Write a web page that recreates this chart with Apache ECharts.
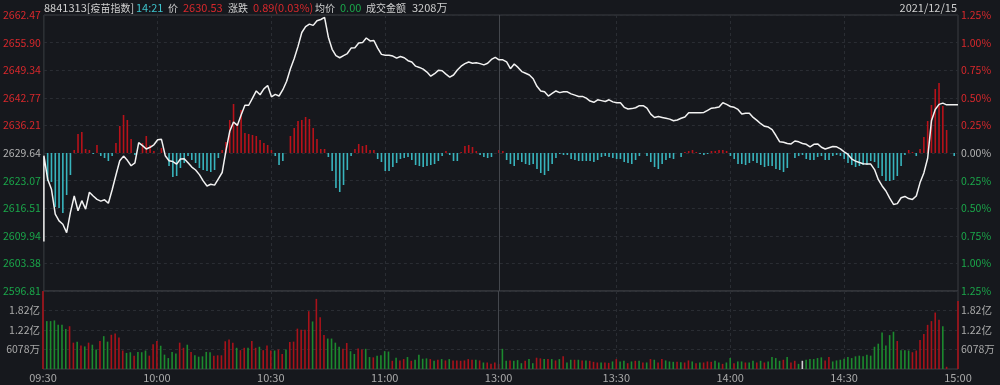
<!DOCTYPE html>
<html><head><meta charset="utf-8">
<script src="https://cdn.jsdelivr.net/npm/echarts@6/dist/echarts.min.js"></script>
<style>html,body{margin:0;padding:0;background:#16181d;}#c{width:1000px;height:385px;}</style>
</head><body><div id="c"></div>
<script>
// ---------- data ----------
const basePrice = 2629.64;
const priceMin = 2596.81;
const priceMax = 2662.47;
const priceStep = 6.566;
const priceTicks = ['2596.81','2603.38','2609.94','2616.51','2623.07','2629.64','2636.21','2642.77','2649.34','2655.90','2662.47'];
const pctTicks = ['1.25%','1.00%','0.75%','0.50%','0.25%','0.00%','0.25%','0.50%','0.75%','1.00%','1.25%'];
const volMax = 24312;
const volStep = 6078;
const volTicks = ['', '6078万', '1.22亿', '1.82亿', ''];
const timeTickIndex = [0, 30, 60, 90, 120, 151, 181, 211, 241];
const timeTickText = ['09:30','10:00','10:30','11:00','13:00','13:30','14:00','14:30','15:00'];
const header = {code:'8841313[', name:'疫苗指数', time:'14:21', price:'2630.53', change:'0.89(0.03%)', avg:'0.00', amount:'3208万', date:'2021/12/15'};

const openLow = 2608.6;
const price = [
2629.0,2623.4,2621.0,2615.1,2613.5,2612.7,2610.7,2615.5,2619.4,2615.9,
2618.3,2616.3,2620.3,2619.4,2618.6,2618.2,2618.5,2617.7,2620.9,2624.4,
2627.8,2628.9,2627.9,2626.6,2627.3,2632.1,2631.4,2630.6,2631.0,2631.6,
2632.8,2632.9,2629.0,2627.8,2627.6,2627.0,2628.2,2628.3,2627.3,2626.3,
2625.6,2624.5,2623.0,2621.8,2622.2,2622.0,2623.5,2625.0,2630.2,2634.8,
2637.0,2636.2,2638.7,2641.0,2641.0,2642.7,2644.4,2643.5,2644.9,2645.7,
2643.0,2643.6,2643.2,2644.7,2646.7,2649.7,2652.1,2655.0,2658.3,2659.7,
2660.3,2660.0,2661.1,2661.4,2661.9,2657.2,2654.3,2652.8,2652.3,2652.8,
2653.3,2654.6,2654.7,2655.8,2655.9,2657.0,2656.3,2656.4,2654.6,2653.1,
2652.9,2652.9,2652.7,2652.2,2652.6,2652.3,2651.6,2651.3,2650.3,2650.0,
2649.6,2648.9,2647.9,2648.5,2649.3,2649.2,2648.4,2647.7,2648.2,2649.4,
2650.3,2650.9,2651.3,2651.0,2651.1,2650.9,2650.6,2651.0,2651.9,2652.4,
2651.8,
2651.8,2651.3,2649.7,2650.8,2650.0,2649.0,2648.6,2648.2,2647.3,2645.5,
2644.4,2644.2,2643.2,2643.8,2644.4,2644.0,2644.2,2644.2,2643.7,2643.4,
2643.1,2643.1,2642.7,2642.0,2641.7,2642.3,2642.1,2641.9,2642.3,2641.8,
2641.6,2641.6,2640.5,2640.1,2640.2,2640.4,2640.9,2640.9,2640.3,2638.9,
2638.1,2638.3,2638.1,2637.9,2637.7,2637.3,2637.5,2637.9,2638.2,2639.2,
2639.2,2639.2,2639.2,2639.3,2639.8,2640.3,2640.4,2640.6,2641.6,2641.2,
2640.7,2640.5,2640.0,2638.9,2639.1,2639.1,2638.1,2637.4,2636.6,2636.0,
2635.8,2635.2,2633.8,2632.3,2632.2,2631.9,2631.8,2632.5,2632.3,2631.9,
2631.7,2631.1,2631.7,2631.8,2631.0,2630.6,2630.9,2631.2,2631.1,2630.6,
2629.9,2629.3,2628.2,2627.7,2627.4,2627.1,2627.0,2627.0,2625.7,2623.3,
2621.8,2620.6,2618.9,2617.4,2617.6,2619.0,2619.3,2618.8,2618.6,2619.4,
2622.6,2624.9,2628.4,2637.3,2640.0,2641.2,2641.5,2641.1,2641.1,2641.1,
2641.1
];
const strength = [
0,-28,-29,-54,-55,-60,-42,-22,3,19,
21,4,3,-1,8,-3,-5,-8,-3,10,
27,38,33,14,-2,0,10,17,8,2,
0,5,0,-13,-24,-23,-15,-10,-3,-7,
-10,-15,-17,-18,-19,-17,-5,3,11,33,
49,30,43,20,19,18,17,13,10,8,
3,-3,-12,-8,0,17,25,32,33,36,
34,25,14,4,4,-4,-18,-35,-39,-32,
-17,-3,4,9,7,8,3,3,-6,-9,
-18,-18,-14,-10,-6,-5,-4,-7,-12,-13,
-14,-13,-12,-11,-8,-3,2,-2,-8,-8,
1,7,8,6,2,-2,-4,-5,-4,0,
3,2,-7,-11,-13,-7,-9,-11,-12,-11,
-16,-20,-22,-18,-11,-5,-1,-2,-2,-6,
-7,-8,-8,-8,-8,-9,-7,-4,-3,-4,
-5,-6,-6,-9,-10,-11,-7,-3,0,-3,
-9,-14,-16,-11,-7,-5,-6,0,-4,1,
2,3,1,-1,-2,-1,2,2,3,3,
2,-3,-6,-11,-11,-12,-10,-8,-10,-12,
-14,-13,-13,-16,-17,-19,-15,0,-5,-3,
-2,-6,-7,-7,-4,-3,-7,-7,-3,-2,
-3,-6,-10,-12,-14,-13,-12,-12,-8,-9,
-15,-23,-28,-28,-27,-23,-13,-2,3,1,
-3,4,16,32,48,64,70,47,23,0,
-3,0
];
const volume = [
26000,14930,14930,15140,13760,13760,12480,13330,8210,8530,
7360,7040,8210,7570,6080,8740,10240,8530,10660,11090,
9810,5760,5010,5230,4160,5330,5230,5760,4160,7680,
8740,7250,4480,3410,5330,4800,8210,6610,7570,5330,
4270,3840,3950,5330,5230,4160,4270,4270,8640,9170,
8210,6610,5870,6610,6610,8740,6610,6930,5870,7360,
5760,5760,6080,4690,6080,8420,8530,12580,12260,12260,
18020,14820,21860,16100,10560,9490,9490,8210,6930,6290,
8100,5550,4690,6400,6080,6290,3730,3630,4160,4270,
5550,5440,2560,3520,2670,3090,3730,2560,2880,4480,
3200,3310,3090,2560,2880,3090,2670,3090,2670,2670,
2560,2670,3090,2880,2880,2670,2030,2030,1600,2030,
1600,6290,2560,2670,2560,2770,1810,2560,3090,1810,
3520,3310,3090,3090,3090,2670,3090,3950,2030,2880,
2880,2880,2670,2670,2560,2240,2030,2030,2030,1920,
2350,3090,2350,2560,1810,2350,2560,2560,2030,2030,
3090,2880,2030,3090,2670,2350,2240,2240,2130,2030,
2670,2350,1810,2030,2030,2350,2240,2560,2030,1600,
2030,3410,1810,2350,2350,2030,2030,2560,2030,2560,
2030,2350,3730,3410,2560,2880,3730,2030,2560,1600,
2560,2880,3090,3090,3410,3630,2670,3730,2350,2670,
2880,3200,3730,3410,3950,4160,3950,4480,4160,6930,
7890,11410,7360,10560,11620,8740,5870,5870,5760,5230,
5760,9060,10880,13760,14930,17590,15350,13330,700,0,
0,21220
];
// 1 = up (red), -1 = down (green), 0 = flat
const volDir = [
1,-1,-1,-1,-1,-1,-1,1,1,-1,
1,-1,1,-1,-1,1,-1,-1,1,1,
1,1,-1,-1,1,-1,-1,-1,1,1,
1,-1,-1,-1,-1,-1,1,1,-1,1,
-1,-1,-1,-1,-1,1,1,1,1,1,
1,-1,1,1,-1,1,1,-1,1,1,
1,-1,1,1,-1,1,1,1,1,1,
1,-1,1,1,1,-1,-1,-1,-1,1,
1,-1,-1,1,1,-1,-1,1,-1,-1,
-1,-1,1,-1,1,1,-1,1,-1,-1,
-1,-1,1,-1,1,-1,1,-1,1,1,
1,1,1,1,-1,1,-1,1,1,1,
1,-1,-1,1,-1,-1,-1,1,-1,-1,
1,1,-1,1,-1,1,-1,1,-1,-1,
1,-1,1,-1,1,1,1,-1,1,1,
-1,1,-1,-1,1,-1,1,-1,1,-1,
1,-1,1,1,-1,-1,-1,1,-1,1,
1,-1,1,-1,1,1,1,-1,-1,1,
-1,-1,1,-1,-1,1,-1,-1,1,-1,
1,-1,-1,-1,-1,1,-1,1,1,-1,
0,-1,-1,-1,-1,-1,1,1,-1,-1,
-1,-1,-1,-1,-1,-1,-1,-1,-1,-1,
-1,-1,-1,-1,-1,1,-1,-1,-1,1,
1,1,1,1,1,1,1,-1,1,1,
1,1
];

// ---------- style ----------
const RED_TXT = '#d8282c', GREEN_TXT = '#1aa74a', GREY_TXT = '#b4b4b4', AX_TXT = '#a9a9a9';
const BAR_RED = '#b8121a', BAR_CYAN = '#38b4bd', VOL_RED = '#a8121a', VOL_GREEN = '#1c8a2e', VOL_FLAT = '#d0d0d0';
const GRID_LINE = '#2a2d33', BORDER = '#3a3d43';
const FONT = '"Noto Sans CJK SC", "Noto Sans", sans-serif';

const cats = price.map((_, i) => String(i));
const dashIdx = [30, 60, 90, 151, 181, 211];

const priceIdx = v => Math.round((Number(v) - priceMin) / priceStep);
const priceColor = v => { const k = priceIdx(v); return k > 5 ? RED_TXT : (k < 5 ? GREEN_TXT : GREY_TXT); };

const chart = echarts.init(document.getElementById('c'), null, {renderer: 'canvas'});
const lineData = [[0, openLow]].concat(price.map((p, i) => [i, p]));

chart.setOption({
  backgroundColor: '#16181d',
  animation: false,
  textStyle: {fontFamily: FONT},
  grid: [
    {left: 43, right: 42, top: 15, height: 276, show: true, borderColor: BORDER, borderWidth: 1},
    {left: 43, right: 42, top: 291, height: 78, show: true, borderColor: BORDER, borderWidth: 1}
  ],
  xAxis: [
    {gridIndex: 0, type: 'category', data: cats, boundaryGap: false,
     axisLine: {show: false}, axisTick: {show: false}, axisLabel: {show: false},
     splitLine: {show: true, interval: (i) => dashIdx.includes(i), lineStyle: {color: GRID_LINE, type: [3, 3]}}},
    {gridIndex: 1, type: 'category', data: cats, boundaryGap: false,
     axisLine: {show: false}, axisTick: {show: false},
     axisLabel: {show: true, interval: (i) => timeTickIndex.includes(i), showMinLabel: true, showMaxLabel: true, hideOverlap: false,
       color: AX_TXT, fontSize: 11, fontFamily: FONT, margin: 3,
       formatter: (v) => { const k = timeTickIndex.indexOf(Number(v)); return k >= 0 ? timeTickText[k] : ''; }},
     splitLine: {show: true, interval: (i) => dashIdx.includes(i), lineStyle: {color: GRID_LINE, type: [3, 3]}}}
  ],
  yAxis: [
    {gridIndex: 0, type: 'value', position: 'left', min: priceMin, max: priceMax, interval: priceStep, scale: true,
     axisLine: {show: false}, axisTick: {show: false},
     axisLabel: {fontSize: 10.5, fontFamily: FONT, margin: 3, color: (v) => priceColor(v),
       formatter: (v) => priceTicks[priceIdx(v)] || ''},
     splitLine: {show: true, lineStyle: {color: GRID_LINE, type: [3, 3]}}},
    {gridIndex: 0, type: 'value', position: 'right', min: priceMin, max: priceMax, interval: priceStep, scale: true,
     axisLine: {show: false}, axisTick: {show: false},
     axisLabel: {fontSize: 10.5, fontFamily: FONT, margin: 3, color: (v) => priceColor(v),
       formatter: (v) => pctTicks[priceIdx(v)] || ''},
     splitLine: {show: false}},
    {gridIndex: 0, type: 'value', show: false, min: -138, max: 138, splitLine: {show: false}},
    {gridIndex: 1, type: 'value', position: 'left', min: 0, max: volMax, interval: volStep,
     axisLine: {show: false}, axisTick: {show: false},
     axisLabel: {fontSize: 10.5, fontFamily: FONT, margin: 3, color: AX_TXT,
       formatter: (v) => volTicks[Math.round(v / volStep)] || ''},
     splitLine: {show: true, lineStyle: {color: GRID_LINE, type: [3, 3]}}},
    {gridIndex: 1, type: 'value', position: 'right', min: 0, max: volMax, interval: volStep,
     axisLine: {show: false}, axisTick: {show: false},
     axisLabel: {fontSize: 10.5, fontFamily: FONT, margin: 3, color: AX_TXT,
       formatter: (v) => volTicks[Math.round(v / volStep)] || ''},
     splitLine: {show: false}}
  ],
  series: [
    {type: 'bar', xAxisIndex: 0, yAxisIndex: 2, barWidth: 1.6, silent: true,
     data: strength.map(v => ({value: v, itemStyle: {color: v >= 0 ? BAR_RED : BAR_CYAN}})),
     markLine: {silent: true, symbol: 'none', label: {show: false},
       lineStyle: {color: '#44474d', type: 'solid', width: 1},
       data: [{xAxis: String(timeTickIndex[4])}]}},
    {type: 'line', xAxisIndex: 0, yAxisIndex: 0, data: lineData, showSymbol: false, symbol: 'none',
     lineStyle: {color: '#f2f2f2', width: 1.5}, silent: true, z: 5},
    {type: 'bar', xAxisIndex: 1, yAxisIndex: 3, barWidth: 1.6, silent: true,
     data: volume.map((v, i) => ({value: v, itemStyle: {color: volDir[i] > 0 ? VOL_RED : (volDir[i] < 0 ? VOL_GREEN : VOL_FLAT)}})),
     markLine: {silent: true, symbol: 'none', label: {show: false},
       lineStyle: {color: '#44474d', type: 'solid', width: 1},
       data: [{xAxis: String(timeTickIndex[4])}]}}
  ],
  graphic: [
    {type: 'text', x: 44, y: 8, silent: true, style: {text: '{a|' + header.code + '}{b|' + header.name + '}{a|]}', textVerticalAlign: 'middle',
      rich: {a: {fill: '#cfcfcf', fontSize: 11, fontFamily: FONT}, b: {fill: '#cfcfcf', fontSize: 10, fontFamily: FONT}}}},
    {type: 'text', x: 136, y: 8, silent: true, style: {text: header.time, fill: '#3ec3cc', fontSize: 11, fontFamily: FONT, textVerticalAlign: 'middle'}},
    {type: 'text', x: 168, y: 8, silent: true, style: {text: '价', fill: '#cfcfcf', fontSize: 10, fontFamily: FONT, textVerticalAlign: 'middle'}},
    {type: 'text', x: 183, y: 8, silent: true, style: {text: header.price, fill: RED_TXT, fontSize: 11, fontFamily: FONT, textVerticalAlign: 'middle'}},
    {type: 'text', x: 228, y: 8, silent: true, style: {text: '涨跌', fill: '#cfcfcf', fontSize: 10, fontFamily: FONT, textVerticalAlign: 'middle'}},
    {type: 'text', x: 253, y: 8, silent: true, style: {text: header.change, fill: RED_TXT, fontSize: 11, fontFamily: FONT, textVerticalAlign: 'middle'}},
    {type: 'text', x: 315, y: 8, silent: true, style: {text: '均价', fill: '#cfcfcf', fontSize: 10, fontFamily: FONT, textVerticalAlign: 'middle'}},
    {type: 'text', x: 340, y: 8, silent: true, style: {text: header.avg, fill: GREEN_TXT, fontSize: 11, fontFamily: FONT, textVerticalAlign: 'middle'}},
    {type: 'text', x: 366, y: 8, silent: true, style: {text: '成交金额', fill: '#cfcfcf', fontSize: 10, fontFamily: FONT, textVerticalAlign: 'middle'}},
    {type: 'text', x: 412, y: 8, silent: true, style: {text: header.amount, fill: '#cfcfcf', fontSize: 11, fontFamily: FONT, textVerticalAlign: 'middle'}},
    {type: 'text', x: 957, y: 8, silent: true, style: {text: header.date, fill: '#cfcfcf', fontSize: 11, fontFamily: FONT, textAlign: 'right', textVerticalAlign: 'middle'}}
  ]
});
</script>
</body></html>
